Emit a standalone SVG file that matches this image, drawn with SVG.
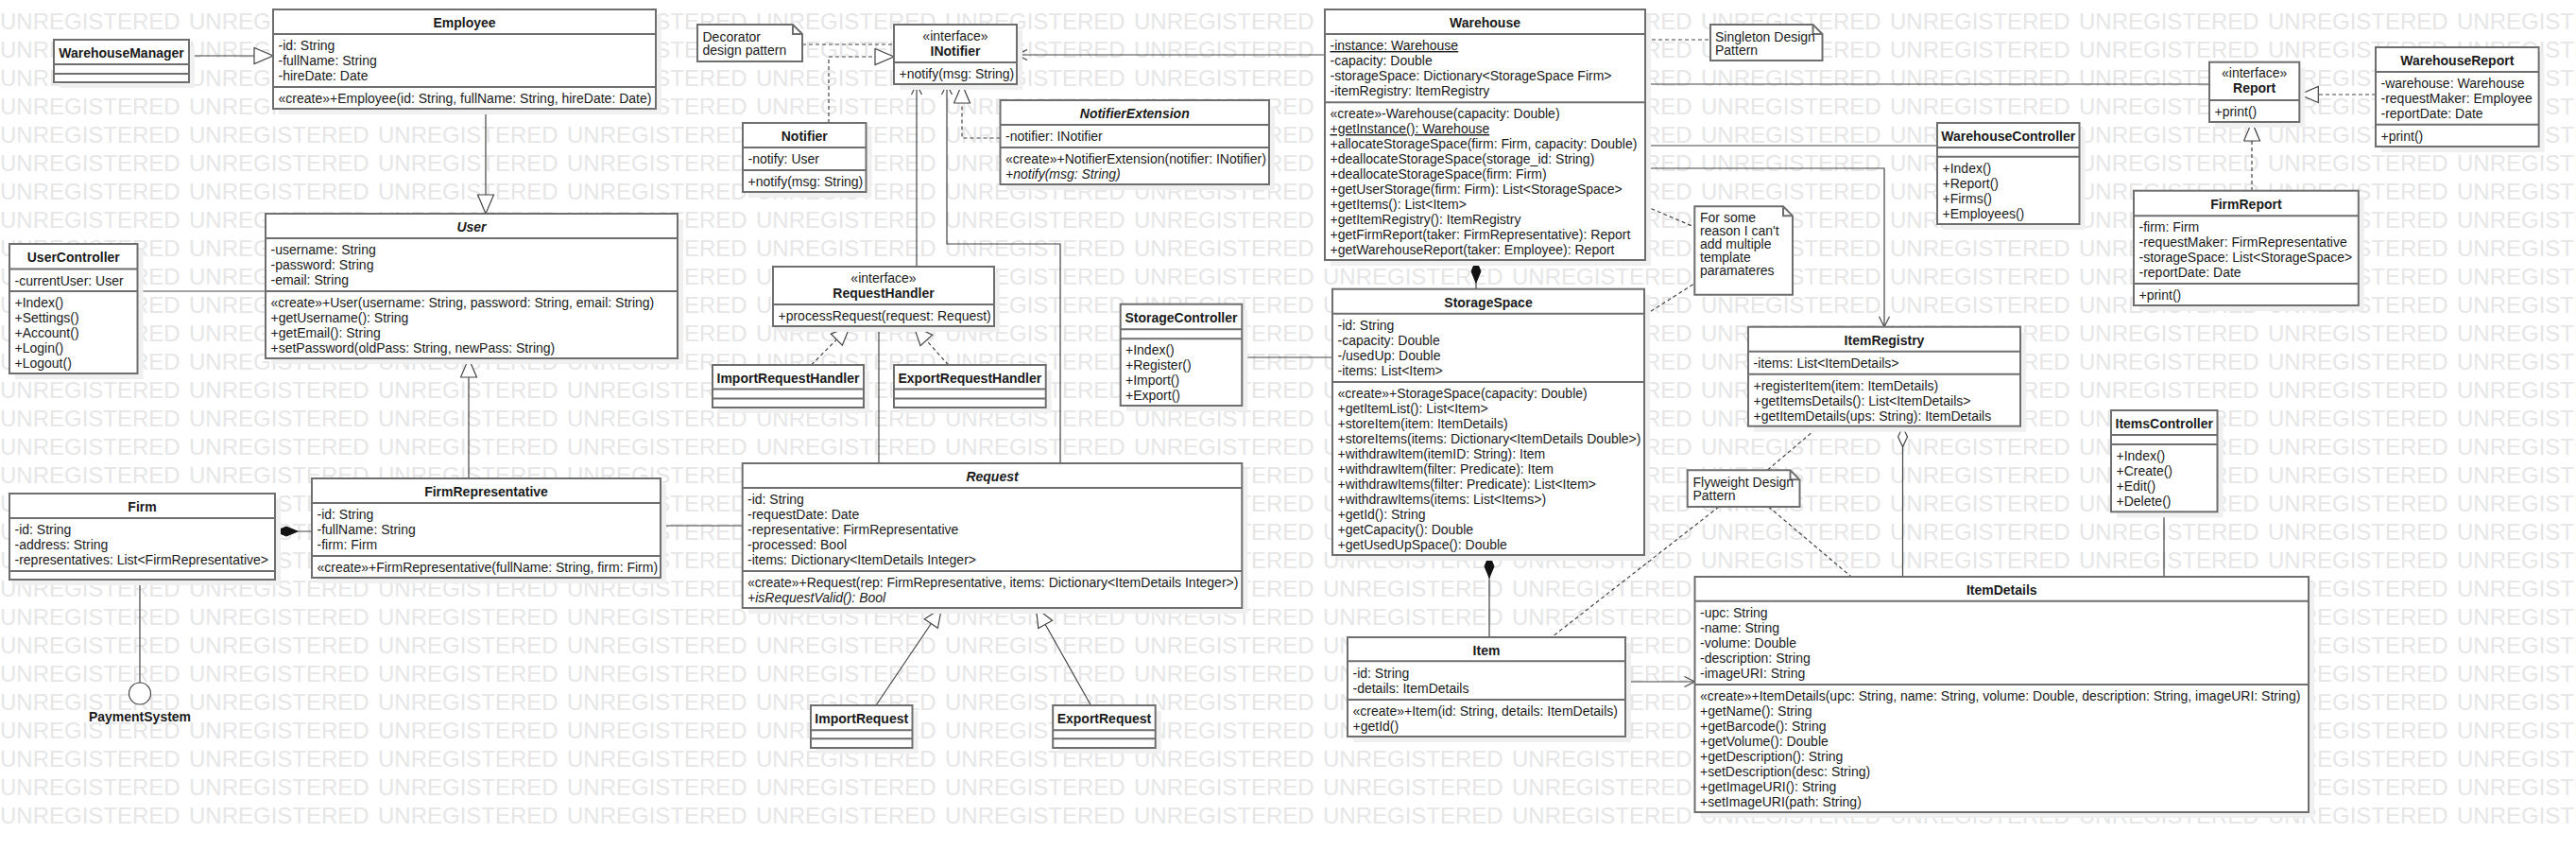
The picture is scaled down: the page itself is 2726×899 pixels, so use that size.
<svg xmlns="http://www.w3.org/2000/svg" xmlns:xlink="http://www.w3.org/1999/xlink" width="2726" height="899" viewBox="0 0 2726 899">
<style>
.wm{font-family:"Liberation Sans",Arial,sans-serif;font-size:24px;fill:#e6e6e6}
.sh{fill:#f0f0f0}
.box{fill:#fff;stroke:#6e6e6e;stroke-width:2}
.sep{fill:none;stroke:#6e6e6e;stroke-width:2}
.t{font-family:"Liberation Sans",Arial,sans-serif;font-size:14px;fill:#1a1a1a}
.b{font-weight:bold}
.i{font-style:italic}
.c{text-anchor:middle}
.u{text-decoration:underline}
.ln{fill:none;stroke:#444;stroke-width:1.2}
.da{stroke-dasharray:4 3}
</style>
<defs>
<marker id="gen" markerUnits="userSpaceOnUse" markerWidth="24" markerHeight="20" refX="21" refY="9.5" orient="auto">
<path d="M1,1 L21,9.5 L1,18 Z" fill="#fff" stroke="#444" stroke-width="1.2"/>
</marker>
<marker id="open" markerUnits="userSpaceOnUse" markerWidth="14" markerHeight="14" refX="12" refY="6" orient="auto">
<path d="M1,0.5 L12,6 L1,11.5" fill="none" stroke="#444" stroke-width="1.2"/>
</marker>
<marker id="comp" markerUnits="userSpaceOnUse" markerWidth="26" markerHeight="12" refX="0" refY="6" orient="auto">
<path d="M0,6 L12,1 L24,6 L12,11 Z" fill="#111" stroke="#111" stroke-width="1"/>
</marker>
<marker id="agg" markerUnits="userSpaceOnUse" markerWidth="26" markerHeight="12" refX="0" refY="6" orient="auto">
<path d="M0.5,6 L11,1 L21.5,6 L11,11 Z" fill="#fff" stroke="#444" stroke-width="1.2"/>
</marker>
</defs>
<rect width="2726" height="899" fill="#fff"/>
<g id="watermark">
<text id="wm" class="wm" y="30.5"><tspan x="0">UNREGISTERED</tspan><tspan x="200">UNREGISTERED</tspan><tspan x="400">UNREGISTERED</tspan><tspan x="600">UNREGISTERED</tspan><tspan x="800">UNREGISTERED</tspan><tspan x="1000">UNREGISTERED</tspan><tspan x="1200">UNREGISTERED</tspan><tspan x="1400">UNREGISTERED</tspan><tspan x="1600">UNREGISTERED</tspan><tspan x="1800">UNREGISTERED</tspan><tspan x="2000">UNREGISTERED</tspan><tspan x="2200">UNREGISTERED</tspan><tspan x="2400">UNREGISTERED</tspan><tspan x="2600">UNREGISTERED</tspan></text>
<use href="#wm" y="30"/><use href="#wm" y="60"/><use href="#wm" y="90"/><use href="#wm" y="120"/><use href="#wm" y="150"/><use href="#wm" y="180"/><use href="#wm" y="210"/><use href="#wm" y="240"/><use href="#wm" y="270"/><use href="#wm" y="300"/><use href="#wm" y="330"/><use href="#wm" y="360"/><use href="#wm" y="390"/><use href="#wm" y="420"/><use href="#wm" y="450"/><use href="#wm" y="480"/><use href="#wm" y="510"/><use href="#wm" y="540"/><use href="#wm" y="570"/><use href="#wm" y="600"/><use href="#wm" y="630"/><use href="#wm" y="660"/><use href="#wm" y="690"/><use href="#wm" y="720"/><use href="#wm" y="750"/><use href="#wm" y="780"/><use href="#wm" y="810"/><use href="#wm" y="840"/>
</g>

<g id="connectors">
<path class="ln" d="M200,59 H289" marker-end="url(#gen)"/>
<path class="ln" d="M514,115 V226" marker-end="url(#gen)"/>
<path class="ln" d="M145.5,308 H281"/>
<path class="ln" d="M496,506 V379" marker-end="url(#gen)"/>
<path class="ln" d="M291,562 H330" marker-start="url(#comp)"/>
<path class="ln" d="M148,613 V722"/>
<path class="ln" d="M699,556 H786"/>
<path class="ln da" d="M849,47 H946"/>
<path class="ln da" d="M877,130 V60 H946" marker-end="url(#gen)"/>
<path class="ln da" d="M1058.5,146 H1018 V89" marker-end="url(#gen)"/>
<path class="ln" d="M970,282 V89" marker-end="url(#open)"/>
<path class="ln" d="M1122,490 V258 H1002 V89" marker-end="url(#open)"/>
<path class="ln" d="M1402,58 H1076" marker-end="url(#open)"/>
<path class="ln" d="M930,345 V490"/>
<path class="ln da" d="M858.5,386 L899.5,345" marker-end="url(#gen)"/>
<path class="ln da" d="M1003.6,386 L967,345" marker-end="url(#gen)"/>
<path class="ln" d="M1314,378 H1410"/>
<path class="ln" d="M927,746 L996.5,643" marker-end="url(#gen)"/>
<path class="ln" d="M1154.4,746 L1096.4,643" marker-end="url(#gen)"/>
<path class="ln" d="M1562,275 V306" marker-start="url(#comp)"/>
<path class="ln" d="M1576,587 V674" marker-start="url(#comp)"/>
<path class="ln" d="M1720,721 H1793.5" marker-end="url(#open)"/>
<path class="ln" d="M1741,89 H2338"/>
<path class="ln" d="M1741,154 H2050"/>
<path class="ln" d="M1741,178 H1994 V345.7" marker-end="url(#open)"/>
<path class="ln da" d="M1741,42 H1810"/>
<path class="ln da" d="M1741,218 L1793,240"/>
<path class="ln da" d="M1741,333 L1793,300"/>
<path class="ln da" d="M2514,100 H2433.3" marker-end="url(#gen)"/>
<path class="ln da" d="M2383,202 V129" marker-end="url(#gen)"/>
<path class="ln" d="M2013.5,451 V610" marker-start="url(#agg)"/>
<path class="ln" d="M2290,541 V610"/>
<path class="ln da" d="M1870.5,497 L1925,451"/>
<path class="ln da" d="M1819,536 L1642,674"/>
<path class="ln da" d="M1871.5,536 L1959,610"/>
</g>

<g id="warehousemanager">
<rect class="sh" x="63" y="48" width="143" height="45"/>
<rect class="box" x="57" y="42" width="143" height="45"/>
<path class="sep" d="M57,68 H200 M57,78 H200"/>
<text class="t b c" x="128.5" y="61">WarehouseManager</text>
</g>

<g id="employee">
<rect class="sh" x="295" y="16" width="405" height="105"/>
<rect class="box" x="289" y="10" width="405" height="105"/>
<path class="sep" d="M289,36 H694 M289,92 H694"/>
<text class="t b c" x="491.5" y="29">Employee</text>
<text class="t" x="294.5" y="53">-id: String</text>
<text class="t" x="294.5" y="69">-fullName: String</text>
<text class="t" x="294.5" y="85">-hireDate: Date</text>
<text class="t" x="294.5" y="109">«create»+Employee(id: String, fullName: String, hireDate: Date)</text>
</g>

<g id="user">
<rect class="sh" x="287" y="232" width="436" height="153"/>
<rect class="box" x="281" y="226" width="436" height="153"/>
<path class="sep" d="M281,252 H717 M281,308 H717"/>
<text class="t b i c" x="499" y="245">User</text>
<text class="t" x="286.5" y="269">-username: String</text>
<text class="t" x="286.5" y="285">-password: String</text>
<text class="t" x="286.5" y="301">-email: String</text>
<text class="t" x="286.5" y="325">«create»+User(username: String, password: String, email: String)</text>
<text class="t" x="286.5" y="341">+getUsername(): String</text>
<text class="t" x="286.5" y="357">+getEmail(): String</text>
<text class="t" x="286.5" y="373">+setPassword(oldPass: String, newPass: String)</text>
</g>

<g id="usercontroller">
<rect class="sh" x="16" y="264" width="135.5" height="137"/>
<rect class="box" x="10" y="258" width="135.5" height="137"/>
<path class="sep" d="M10,284.5 H145.5 M10,308 H145.5"/>
<text class="t b c" x="77.75" y="277">UserController</text>
<text class="t" x="15.5" y="301.5">-currentUser: User</text>
<text class="t" x="15.5" y="325">+Index()</text>
<text class="t" x="15.5" y="341">+Settings()</text>
<text class="t" x="15.5" y="357">+Account()</text>
<text class="t" x="15.5" y="373">+Login()</text>
<text class="t" x="15.5" y="389">+Logout()</text>
</g>

<g id="firm">
<rect class="sh" x="16" y="528" width="281" height="91"/>
<rect class="box" x="10" y="522" width="281" height="91"/>
<path class="sep" d="M10,548 H291 M10,604 H291"/>
<text class="t b c" x="150.5" y="541">Firm</text>
<text class="t" x="15.5" y="565">-id: String</text>
<text class="t" x="15.5" y="581">-address: String</text>
<text class="t" x="15.5" y="597">-representatives: List&lt;FirmRepresentative&gt;</text>
</g>

<g id="firmrepresentative">
<rect class="sh" x="336" y="512" width="369" height="105"/>
<rect class="box" x="330" y="506" width="369" height="105"/>
<path class="sep" d="M330,532 H699 M330,588 H699"/>
<text class="t b c" x="514.5" y="525">FirmRepresentative</text>
<text class="t" x="335.5" y="549">-id: String</text>
<text class="t" x="335.5" y="565">-fullName: String</text>
<text class="t" x="335.5" y="581">-firm: Firm</text>
<text class="t" x="335.5" y="605">«create»+FirmRepresentative(fullName: String, firm: Firm)</text>
</g>

<g id="paymentsystem">
<circle cx="148" cy="733.5" r="11.5" fill="#fff" stroke="#444" stroke-width="1.2"/>
<text class="t b c" x="148" y="763">PaymentSystem</text>
</g>

<g id="note-decorator">
<path class="box" d="M738,26 H839 L849,36 V65 H738 Z"/>
<path class="sep" d="M839,26 V36 H849" stroke-width="1.5"/>
<text class="t" x="743.5" y="43.5">Decorator</text>
<text class="t" x="743.5" y="57.5">design pattern</text>
</g>

<g id="inotifier">
<rect class="sh" x="952" y="32" width="130" height="63"/>
<rect class="box" x="946" y="26" width="130" height="63"/>
<path class="sep" d="M946,66 H1076"/>
<text class="t c" x="1011" y="42.5">«interface»</text>
<text class="t b c" x="1011" y="58.5">INotifier</text>
<text class="t" x="951.5" y="83">+notify(msg: String)</text>
</g>

<g id="notifier">
<rect class="sh" x="792" y="136" width="130.5" height="73"/>
<rect class="box" x="786" y="130" width="130.5" height="73"/>
<path class="sep" d="M786,156 H916.5 M786,180 H916.5"/>
<text class="t b c" x="851.25" y="149">Notifier</text>
<text class="t" x="791.5" y="173">-notify: User</text>
<text class="t" x="791.5" y="197">+notify(msg: String)</text>
</g>

<g id="notifierextension">
<rect class="sh" x="1064.5" y="112" width="284.5" height="89"/>
<rect class="box" x="1058.5" y="106" width="284.5" height="89"/>
<path class="sep" d="M1058.5,132 H1343 M1058.5,156 H1343"/>
<text class="t b i c" x="1200.75" y="125">NotifierExtension</text>
<text class="t" x="1064" y="149">-notifier: INotifier</text>
<text class="t" x="1064" y="173">«create»+NotifierExtension(notifier: INotifier)</text>
<text class="t i" x="1064" y="189">+notify(msg: String)</text>
</g>

<g id="requesthandler">
<rect class="sh" x="824" y="288" width="234" height="63"/>
<rect class="box" x="818" y="282" width="234" height="63"/>
<path class="sep" d="M818,322 H1052"/>
<text class="t c" x="935" y="298.5">«interface»</text>
<text class="t b c" x="935" y="314.5">RequestHandler</text>
<text class="t" x="823.5" y="339">+processRequest(request: Request)</text>
</g>

<g id="importrequesthandler">
<rect class="sh" x="760" y="392" width="160" height="45"/>
<rect class="box" x="754" y="386" width="160" height="45"/>
<path class="sep" d="M754,411.5 H914 M754,421.5 H914"/>
<text class="t b c" x="834" y="405">ImportRequestHandler</text>
</g>

<g id="exportrequesthandler">
<rect class="sh" x="952" y="392" width="160.7" height="45"/>
<rect class="box" x="946" y="386" width="160.7" height="45"/>
<path class="sep" d="M946,411.5 H1106.7 M946,421.5 H1106.7"/>
<text class="t b c" x="1026.35" y="405">ExportRequestHandler</text>
</g>

<g id="storagecontroller">
<rect class="sh" x="1191.7" y="327.7" width="128.6" height="107.3"/>
<rect class="box" x="1185.7" y="321.7" width="128.6" height="107.3"/>
<path class="sep" d="M1185.7,348.3 H1314.3 M1185.7,358.3 H1314.3"/>
<text class="t b c" x="1250" y="341">StorageController</text>
<text class="t" x="1191" y="375">+Index()</text>
<text class="t" x="1191" y="391">+Register()</text>
<text class="t" x="1191" y="407">+Import()</text>
<text class="t" x="1191" y="423">+Export()</text>
</g>

<g id="request">
<rect class="sh" x="791.7" y="496" width="528.6" height="153"/>
<rect class="box" x="785.7" y="490" width="528.6" height="153"/>
<path class="sep" d="M785.7,516 H1314.3 M785.7,604 H1314.3"/>
<text class="t b i c" x="1050" y="509">Request</text>
<text class="t" x="791" y="533">-id: String</text>
<text class="t" x="791" y="549">-requestDate: Date</text>
<text class="t" x="791" y="565">-representative: FirmRepresentative</text>
<text class="t" x="791" y="581">-processed: Bool</text>
<text class="t" x="791" y="597">-items: Dictionary&lt;ItemDetails Integer&gt;</text>
<text class="t" x="791" y="621">«create»+Request(rep: FirmRepresentative, items: Dictionary&lt;ItemDetails Integer&gt;)</text>
<text class="t i" x="791" y="637">+isRequestValid(): Bool</text>
</g>

<g id="importrequest">
<rect class="sh" x="864" y="752" width="107.5" height="45"/>
<rect class="box" x="858" y="746" width="107.5" height="45"/>
<path class="sep" d="M858,772.3 H965.5 M858,781.3 H965.5"/>
<text class="t b c" x="911.75" y="765">ImportRequest</text>
</g>

<g id="exportrequest">
<rect class="sh" x="1120.2" y="752" width="108.5" height="45"/>
<rect class="box" x="1114.2" y="746" width="108.5" height="45"/>
<path class="sep" d="M1114.2,772.3 H1222.7 M1114.2,781.3 H1222.7"/>
<text class="t b c" x="1168.45" y="765">ExportRequest</text>
</g>

<g id="warehouse">
<rect class="sh" x="1408" y="16" width="339" height="265"/>
<rect class="box" x="1402" y="10" width="339" height="265"/>
<path class="sep" d="M1402,36 H1741 M1402,108.3 H1741"/>
<text class="t b c" x="1571.5" y="29">Warehouse</text>
<text class="t u" x="1407.5" y="53">-instance: Warehouse</text>
<text class="t" x="1407.5" y="69">-capacity: Double</text>
<text class="t" x="1407.5" y="85">-storageSpace: Dictionary&lt;StorageSpace Firm&gt;</text>
<text class="t" x="1407.5" y="101">-itemRegistry: ItemRegistry</text>
<text class="t" x="1407.5" y="125">«create»-Warehouse(capacity: Double)</text>
<text class="t u" x="1407.5" y="141">+getInstance(): Warehouse</text>
<text class="t" x="1407.5" y="157">+allocateStorageSpace(firm: Firm, capacity: Double)</text>
<text class="t" x="1407.5" y="173">+deallocateStorageSpace(storage_id: String)</text>
<text class="t" x="1407.5" y="189">+deallocateStorageSpace(firm: Firm)</text>
<text class="t" x="1407.5" y="205">+getUserStorage(firm: Firm): List&lt;StorageSpace&gt;</text>
<text class="t" x="1407.5" y="221">+getItems(): List&lt;Item&gt;</text>
<text class="t" x="1407.5" y="237">+getItemRegistry(): ItemRegistry</text>
<text class="t" x="1407.5" y="253">+getFirmReport(taker: FirmRepresentative): Report</text>
<text class="t" x="1407.5" y="269">+getWarehouseReport(taker: Employee): Report</text>
</g>

<g id="note-singleton">
<path class="box" d="M1810,26 H1918.5 L1928.5,36 V64 H1810 Z"/>
<path class="sep" d="M1918.5,26 V36 H1928.5" stroke-width="1.5"/>
<text class="t" x="1815" y="43.5">Singleton Design</text>
<text class="t" x="1815" y="57.5">Pattern</text>
</g>

<g id="note-template">
<path class="box" d="M1793.3,218.3 H1887 L1897,228.3 V311.7 H1793.3 Z"/>
<path class="sep" d="M1887,218.3 V228.3 H1897" stroke-width="1.5"/>
<text class="t" x="1799" y="235">For some</text>
<text class="t" x="1799" y="249">reason I can't</text>
<text class="t" x="1799" y="263">add multiple</text>
<text class="t" x="1799" y="277">template</text>
<text class="t" x="1799" y="291">paramateres</text>
</g>

<g id="storagespace">
<rect class="sh" x="1416" y="311.7" width="330" height="281.3"/>
<rect class="box" x="1410" y="305.7" width="330" height="281.3"/>
<path class="sep" d="M1410,331.7 H1740 M1410,404 H1740"/>
<text class="t b c" x="1575" y="325">StorageSpace</text>
<text class="t" x="1415.5" y="349">-id: String</text>
<text class="t" x="1415.5" y="365">-capacity: Double</text>
<text class="t" x="1415.5" y="381">-/usedUp: Double</text>
<text class="t" x="1415.5" y="397">-items: List&lt;Item&gt;</text>
<text class="t" x="1415.5" y="421">«create»+StorageSpace(capacity: Double)</text>
<text class="t" x="1415.5" y="437">+getItemList(): List&lt;Item&gt;</text>
<text class="t" x="1415.5" y="453">+storeItem(item: ItemDetails)</text>
<text class="t" x="1415.5" y="469">+storeItems(items: Dictionary&lt;ItemDetails Double&gt;)</text>
<text class="t" x="1415.5" y="485">+withdrawItem(itemID: String): Item</text>
<text class="t" x="1415.5" y="501">+withdrawItem(filter: Predicate): Item</text>
<text class="t" x="1415.5" y="517">+withdrawItems(filter: Predicate): List&lt;Item&gt;</text>
<text class="t" x="1415.5" y="533">+withdrawItems(items: List&lt;Items&gt;)</text>
<text class="t" x="1415.5" y="549">+getId(): String</text>
<text class="t" x="1415.5" y="565">+getCapacity(): Double</text>
<text class="t" x="1415.5" y="581">+getUsedUpSpace(): Double</text>
</g>

<g id="item">
<rect class="sh" x="1432" y="680" width="294" height="105"/>
<rect class="box" x="1426" y="674" width="294" height="105"/>
<path class="sep" d="M1426,699.3 H1720 M1426,740 H1720"/>
<text class="t b c" x="1573" y="693">Item</text>
<text class="t" x="1431.5" y="716.5">-id: String</text>
<text class="t" x="1431.5" y="732.5">-details: ItemDetails</text>
<text class="t" x="1431.5" y="757">«create»+Item(id: String, details: ItemDetails)</text>
<text class="t" x="1431.5" y="773">+getId()</text>
</g>

<g id="warehousecontroller">
<rect class="sh" x="2056" y="136" width="150.5" height="107"/>
<rect class="box" x="2050" y="130" width="150.5" height="107"/>
<path class="sep" d="M2050,156 H2200.5 M2050,165.7 H2200.5"/>
<text class="t b c" x="2125.25" y="149">WarehouseController</text>
<text class="t" x="2055.5" y="183">+Index()</text>
<text class="t" x="2055.5" y="199">+Report()</text>
<text class="t" x="2055.5" y="215">+Firms()</text>
<text class="t" x="2055.5" y="231">+Employees()</text>
</g>

<g id="report">
<rect class="sh" x="2344" y="71.7" width="95.3" height="63.3"/>
<rect class="box" x="2338" y="65.7" width="95.3" height="63.3"/>
<path class="sep" d="M2338,106 H2433.3"/>
<text class="t c" x="2385.65" y="82">«interface»</text>
<text class="t b c" x="2385.65" y="98">Report</text>
<text class="t" x="2343.5" y="123">+print()</text>
</g>

<g id="warehousereport">
<rect class="sh" x="2520" y="56" width="172.6" height="105"/>
<rect class="box" x="2514" y="50" width="172.6" height="105"/>
<path class="sep" d="M2514,76 H2686.6 M2514,131.7 H2686.6"/>
<text class="t b c" x="2600.3" y="69">WarehouseReport</text>
<text class="t" x="2519.5" y="93">-warehouse: Warehouse</text>
<text class="t" x="2519.5" y="109">-requestMaker: Employee</text>
<text class="t" x="2519.5" y="125">-reportDate: Date</text>
<text class="t" x="2519.5" y="149">+print()</text>
</g>

<g id="firmreport">
<rect class="sh" x="2264" y="207.7" width="237.8" height="121.3"/>
<rect class="box" x="2258" y="201.7" width="237.8" height="121.3"/>
<path class="sep" d="M2258,228.3 H2495.8 M2258,300 H2495.8"/>
<text class="t b c" x="2376.9" y="221">FirmReport</text>
<text class="t" x="2263.5" y="245">-firm: Firm</text>
<text class="t" x="2263.5" y="261">-requestMaker: FirmRepresentative</text>
<text class="t" x="2263.5" y="277">-storageSpace: List&lt;StorageSpace&gt;</text>
<text class="t" x="2263.5" y="293">-reportDate: Date</text>
<text class="t" x="2263.5" y="317">+print()</text>
</g>

<g id="itemregistry">
<rect class="sh" x="1856" y="351.7" width="288" height="105"/>
<rect class="box" x="1850" y="345.7" width="288" height="105"/>
<path class="sep" d="M1850,371.7 H2138 M1850,395.7 H2138"/>
<text class="t b c" x="1994" y="365">ItemRegistry</text>
<text class="t" x="1855.5" y="388.5">-items: List&lt;ItemDetails&gt;</text>
<text class="t" x="1855.5" y="412.5">+registerItem(item: ItemDetails)</text>
<text class="t" x="1855.5" y="428.5">+getItemsDetails(): List&lt;ItemDetails&gt;</text>
<text class="t" x="1855.5" y="444.5">+getItemDetails(ups: String): ItemDetails</text>
</g>

<g id="note-flyweight">
<path class="box" d="M1785.7,497.3 H1894.5 L1904.5,507.3 V536 H1785.7 Z"/>
<path class="sep" d="M1894.5,497.3 V507.3 H1904.5" stroke-width="1.5"/>
<text class="t" x="1791.5" y="514.5">Flyweight Design</text>
<text class="t" x="1791.5" y="528.5">Pattern</text>
</g>

<g id="itemscontroller">
<rect class="sh" x="2240" y="440" width="112.5" height="107.3"/>
<rect class="box" x="2234" y="434" width="112.5" height="107.3"/>
<path class="sep" d="M2234,460 H2346.5 M2234,470 H2346.5"/>
<text class="t b c" x="2290.25" y="453">ItemsController</text>
<text class="t" x="2239.5" y="487">+Index()</text>
<text class="t" x="2239.5" y="503">+Create()</text>
<text class="t" x="2239.5" y="519">+Edit()</text>
<text class="t" x="2239.5" y="535">+Delete()</text>
</g>

<g id="itemdetails">
<rect class="sh" x="1799.5" y="616" width="649.5" height="249"/>
<rect class="box" x="1793.5" y="610" width="649.5" height="249"/>
<path class="sep" d="M1793.5,635.7 H2443 M1793.5,724 H2443"/>
<text class="t b c" x="2118.25" y="629">ItemDetails</text>
<text class="t" x="1799" y="653">-upc: String</text>
<text class="t" x="1799" y="669">-name: String</text>
<text class="t" x="1799" y="685">-volume: Double</text>
<text class="t" x="1799" y="701">-description: String</text>
<text class="t" x="1799" y="717">-imageURI: String</text>
<text class="t" x="1799" y="741">«create»+ItemDetails(upc: String, name: String, volume: Double, description: String, imageURI: String)</text>
<text class="t" x="1799" y="757">+getName(): String</text>
<text class="t" x="1799" y="773">+getBarcode(): String</text>
<text class="t" x="1799" y="789">+getVolume(): Double</text>
<text class="t" x="1799" y="805">+getDescription(): String</text>
<text class="t" x="1799" y="821">+setDescription(desc: String)</text>
<text class="t" x="1799" y="837">+getImageURI(): String</text>
<text class="t" x="1799" y="853">+setImageURI(path: String)</text>
</g>
</svg>
